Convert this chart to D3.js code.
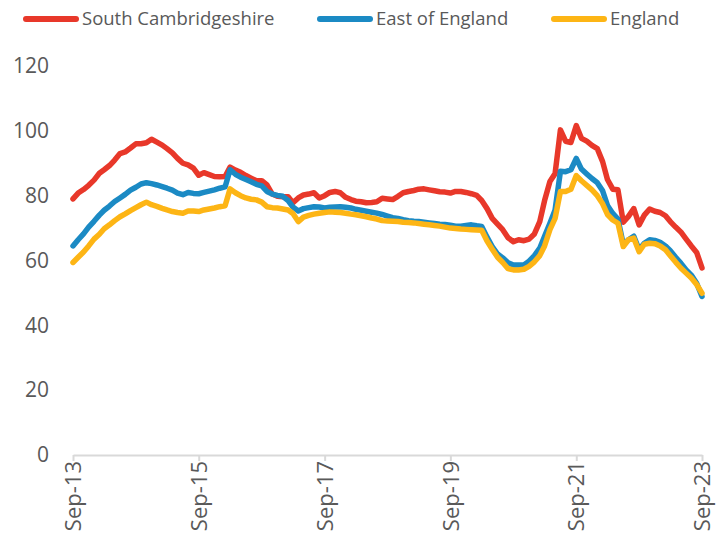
<!DOCTYPE html>
<html><head><meta charset="utf-8">
<script src="https://cdn.jsdelivr.net/npm/d3@7"></script>
<style>
html,body{margin:0;padding:0;background:#fff;}
svg{display:block;}
text{font-family:"Open Sans","Liberation Sans",sans-serif;}
</style></head>
<body><svg id="chart" width="724" height="533"></svg>
<script>
const startMonth = "Sep-13";
const seriesNames = ["South Cambridgeshire","East of England","England"];
const seriesColors = ["#E8382A","#1B8AC4","#FDB515"];
const southCambs = [79,80.8,81.9,83.2,84.8,86.9,88,89.3,91,93,93.5,94.7,96,96,96.3,97.4,96.5,95.6,94.5,93.2,91.5,90,89.5,88.5,86.3,87.1,86.5,85.9,85.8,85.9,88.8,87.9,87.2,86.2,85.4,84.6,84.6,83.3,80.5,79.8,79.7,79.7,77.8,79.3,80.2,80.5,80.9,79.3,80,81,81.3,80.9,79.5,78.8,78.3,78.1,77.8,77.9,78.1,79.2,79,78.8,79.8,80.9,81.3,81.6,82,82.1,81.8,81.5,81.2,81.1,80.8,81.3,81.3,81,80.6,80.1,78.5,76,73,71.2,69.5,67,65.8,66.4,66.1,66.6,68.2,72,78.5,84.4,86.8,100.3,96.8,96.4,101.6,97.7,96.8,95.5,94.5,90.5,85,82,81.8,71.8,73.6,76,71,74,75.9,75.2,74.8,73.8,72,70.3,68.8,66.6,64.5,62.5,57.7];
const eastOfEngland = [64.5,66.4,68.2,70.3,72.1,74,75.5,76.8,78.2,79.3,80.4,81.7,82.6,83.6,84,83.7,83.3,82.8,82.3,81.7,80.8,80.3,81,80.7,80.6,81,81.4,81.8,82.3,82.7,88,86.6,85.7,85,84.3,83.5,83,81.3,80.5,80.1,79.8,78.5,76.5,75.3,76,76.3,76.6,76.5,76.2,76.4,76.5,76.6,76.4,76.2,75.8,75.5,75.2,74.9,74.6,74.2,73.7,73.2,73,72.6,72.3,72.1,72,71.8,71.6,71.4,71.2,71.1,70.9,70.6,70.6,70.8,71,70.7,70.5,67.2,64.3,62,60.8,59.3,58.6,58.6,58.6,59.8,61.5,63.8,67.5,71.5,75.6,87.5,87.4,88,91.5,88.2,86.7,85.3,84,81.5,77,74.5,72.8,65,66.4,67.5,63.3,65.3,66.4,66.2,65.6,64.5,63,61,59.2,57.1,55.5,53,48.9];
const england = [59.4,61,62.6,64.5,66.6,68.1,69.8,71,72.3,73.5,74.4,75.4,76.3,77.2,78,77.2,76.7,76.1,75.6,75.1,74.8,74.6,75.3,75.3,75.1,75.6,75.9,76.2,76.6,76.9,82.1,80.9,80,79.3,78.9,78.7,78,76.6,76.3,76.2,75.9,75.6,74.5,72,73.4,73.9,74.3,74.6,74.8,75,74.9,74.8,74.6,74.3,74.1,73.8,73.5,73.1,72.8,72.3,72.2,72.1,72,71.8,71.7,71.6,71.4,71.2,71,70.8,70.6,70.3,70,69.9,69.7,69.6,69.5,69.4,69.3,66,63.5,61,59.4,57.5,57.1,57.1,57.3,58.2,59.6,61.5,64.5,69.5,73,81.3,81.3,82,86.2,84.6,83.2,81.8,80,77.5,74.2,72.5,71.5,64.3,66.4,66.9,62.7,65,65.3,65.2,64.5,63.3,61.5,59.5,57.7,56.1,54.6,52.6,49.9];
const xTickLabels = ["Sep-13","Sep-15","Sep-17","Sep-19","Sep-21","Sep-23"];
const yTicks = [0,20,40,60,80,100,120];

const parse = d3.timeParse("%b-%y");
const start = parse(startMonth);
const dates = southCambs.map((_, i) => d3.timeMonth.offset(start, i));
const allSeries = [southCambs, eastOfEngland, england];

const svg = d3.select("#chart");
const x = d3.scaleTime().domain([start, dates[dates.length-1]]).range([73, 702]);
const y = d3.scaleLinear().domain([0, 120]).range([455, 66]);

// Y axis labels
const yAxis = svg.append("g").attr("transform","translate(73,0)")
  .call(d3.axisLeft(y).tickValues(yTicks).tickSize(0).tickPadding(24));
yAxis.select(".domain").remove();
yAxis.selectAll("text").attr("fill","#595959").style("font-size","21px")
  .style("font-family","'Open Sans','Liberation Sans',sans-serif");

// X axis
const xAxis = svg.append("g").attr("transform","translate(0,455)")
  .call(d3.axisBottom(x).tickValues(xTickLabels.map(parse)).tickFormat(d3.timeFormat("%b-%y")).tickSize(6).tickSizeOuter(0));
xAxis.select(".domain").attr("stroke","#d9d9d9").attr("stroke-width",2);
xAxis.selectAll(".tick line").attr("stroke","#d9d9d9").attr("stroke-width",2);
xAxis.selectAll("text").attr("fill","#595959").style("font-size","22px")
  .style("font-family","'Open Sans','Liberation Sans',sans-serif")
  .attr("transform","rotate(-90)").attr("text-anchor","end")
  .attr("x",-6).attr("y",0).attr("dy","0.35em");

// Lines
const line = d3.line().x((d,i)=>x(dates[i])).y(d=>y(d));
allSeries.forEach((s, k) => {
  svg.append("path").datum(s).attr("d", line).attr("fill","none")
    .attr("stroke", seriesColors[k]).attr("stroke-width",5.5)
    .attr("stroke-linejoin","round").attr("stroke-linecap","round");
});

// Legend
const legendX = [24, 318, 552];
const lg = svg.append("g");
seriesNames.forEach((n, k) => {
  lg.append("line").attr("x1",legendX[k]+2).attr("x2",legendX[k]+52).attr("y1",19).attr("y2",19)
    .attr("stroke",seriesColors[k]).attr("stroke-width",6).attr("stroke-linecap","round");
  lg.append("text").attr("x",legendX[k]+58).attr("y",19).attr("dy","0.35em")
    .attr("fill","#595959").style("font-size","18.5px").text(n);
});
</script></body></html>
